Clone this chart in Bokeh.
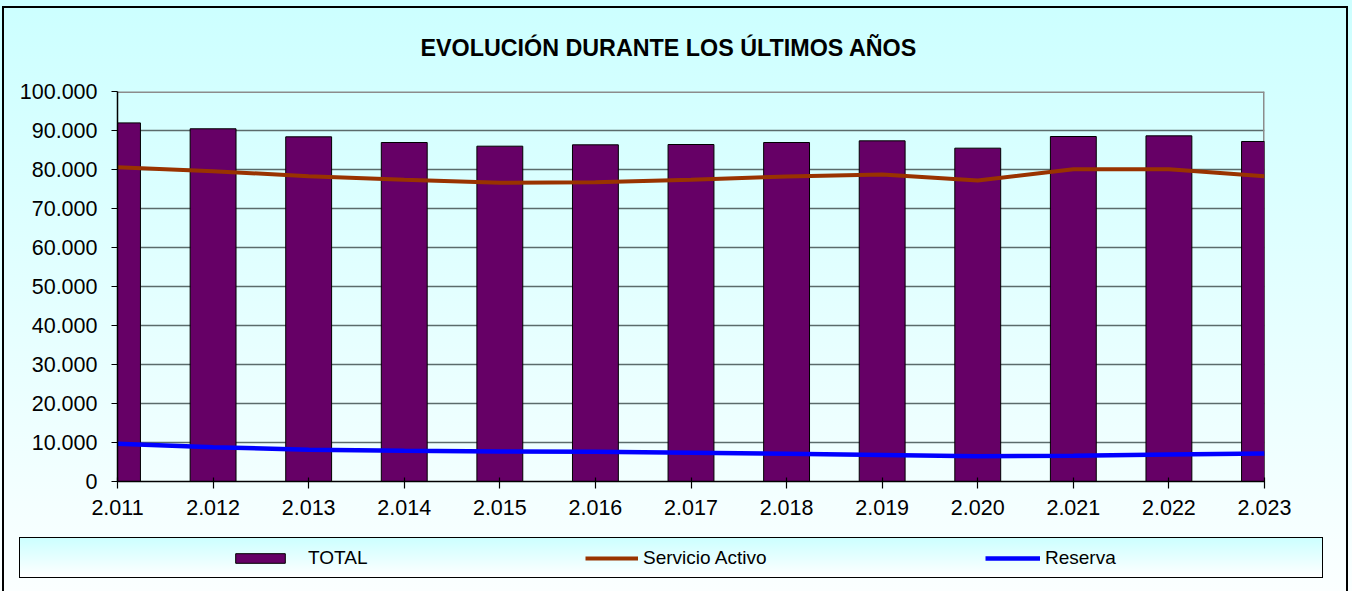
from bokeh.plotting import figure
from bokeh.layouts import column
from bokeh.models import Range1d, FixedTicker, Legend, LegendItem, Span
from bokeh.embed import file_html
from bokeh.resources import INLINE

# ---- data ----
years = [2011, 2012, 2013, 2014, 2015, 2016, 2017, 2018, 2019, 2020, 2021, 2022, 2023]
x_labels = ["2.011", "2.012", "2.013", "2.014", "2.015", "2.016", "2.017",
            "2.018", "2.019", "2.020", "2.021", "2.022", "2.023"]
total = [91950, 90440, 88380, 86920, 85980, 86330, 86410, 86920, 87350, 85470, 88460, 88630, 87180]
servicio_activo = [80590, 79560, 78290, 77360, 76590, 76750, 77360, 78200, 78720, 77180, 80080, 80080, 78290]
reserva = [9660, 8800, 8120, 7900, 7700, 7600, 7400, 7100, 6800, 6500, 6600, 6900, 7200]
y_ticks = [0, 10000, 20000, 30000, 40000, 50000, 60000, 70000, 80000, 90000, 100000]
y_labels = ["0", "10.000", "20.000", "30.000", "40.000", "50.000", "60.000",
            "70.000", "80.000", "90.000", "100.000"]
title_text = "EVOLUCIÓN DURANTE LOS ÚLTIMOS AÑOS"
series_names = ["TOTAL", "Servicio Activo", "Reserva"]

FONT = "Liberation Sans"
W = 1352
H1, H2 = 530, 61          # chart part / legend part
FRAME_L, FRAME_R, FRAME_T, FRAME_B = 117, 1264, 91, 481

BAR_COLOR = "#660066"
SERV_COLOR = "#993300"
RES_COLOR = "#0000ff"

# ---------------- chart figure ----------------
bg1 = [
    "linear-gradient(#000000, #000000) 2px 6px / 2px 600px no-repeat",        # outer left
    "linear-gradient(#000000, #000000) 2px 6px / 1346px 2px no-repeat",       # outer top
    "linear-gradient(#000000, #000000) 1346px 6px / 2px 600px no-repeat",     # outer right
    "linear-gradient(to bottom, #ccffff 0%, #f6ffff 100%)",                   # background
]
p = figure(width=W, height=H1, output_backend="svg", toolbar_location=None,
           x_range=Range1d(years[0], years[-1]), y_range=Range1d(y_ticks[0], y_ticks[-1]),
           min_border_left=FRAME_L, min_border_right=W - FRAME_R, min_border_top=FRAME_T,
           min_border_bottom=H1 - FRAME_B,
           background_fill_color=None, border_fill_color=None, outline_line_color=None,
           styles={"background": ", ".join(bg1)})

p.title.text = title_text
p.title.align = "left"
p.title.offset = 303
p.title.standoff = 61
p.title.text_font = FONT
p.title.text_font_size = "23.3px"
p.title.text_font_style = "bold"
p.title.text_color = "black"

p.xgrid.visible = False
p.ygrid.ticker = FixedTicker(ticks=y_ticks)
p.ygrid.grid_line_color = "#5b6b6b"
p.ygrid.grid_line_width = 1.5

p.add_layout(Span(location=y_ticks[-1], dimension="width", line_color="#8c8c8c",
                  line_width=3, level="underlay"))
p.add_layout(Span(location=years[-1], dimension="height", line_color="#8c8c8c",
                  line_width=3, level="underlay"))

p.vbar(x=years, top=total, bottom=0, width=0.48,
       fill_color=BAR_COLOR, line_color="black", line_width=1)
p.line(years, servicio_activo, line_color=SERV_COLOR, line_width=4)
p.line(years, reserva, line_color=RES_COLOR, line_width=4.5)

for ax in (p.xaxis[0], p.yaxis[0]):
    ax.axis_line_color = "black"
    ax.axis_line_width = 1.5
    ax.major_tick_line_color = "black"
    ax.major_tick_line_width = 1.2
    ax.minor_tick_line_color = None
    ax.major_label_text_font = FONT
    ax.major_label_text_font_size = "21.5px"
    ax.major_label_text_color = "black"

p.xaxis.ticker = FixedTicker(ticks=years)
p.xaxis.major_label_overrides = {y: l for y, l in zip(years, x_labels)}
p.xaxis.major_tick_in = 4
p.xaxis.major_tick_out = 7
p.xaxis.major_label_standoff = 11

p.yaxis.ticker = FixedTicker(ticks=y_ticks)
p.yaxis.major_label_overrides = {t: l for t, l in zip(y_ticks, y_labels)}
p.yaxis.major_tick_in = 0
p.yaxis.major_tick_out = 6
p.yaxis.major_label_standoff = 14

# ---------------- legend strip ----------------
bg2 = [
    "linear-gradient(#ccffff, #ffffff) 20px 8px / 1302px 39px no-repeat",     # legend box fill
    "linear-gradient(#000000, #000000) 19px 7px / 1304px 41px no-repeat",     # legend box border
    "linear-gradient(#000000, #000000) 2px 0px / 2px 61px no-repeat",         # outer left
    "linear-gradient(#000000, #000000) 1346px 0px / 2px 61px no-repeat",      # outer right
    "linear-gradient(to bottom, #f6ffff 0%, #fbffff 100%)",                   # background
]
q = figure(width=W, height=H2, output_backend="svg", toolbar_location=None, title=None,
           x_range=Range1d(years[0], years[-1]), y_range=Range1d(y_ticks[0], y_ticks[-1]),
           x_axis_type=None, y_axis_type=None,
           min_border_left=FRAME_L, min_border_right=W - FRAME_R, min_border_top=0,
           min_border_bottom=0,
           background_fill_color=None, border_fill_color=None, outline_line_color=None,
           styles={"background": ", ".join(bg2)})
q.grid.visible = False

# hidden copies of the series, used only to draw the legend swatches
k_bar = q.vbar(x=years, top=total, bottom=0, width=0.48, fill_color=BAR_COLOR,
               line_color="black", line_width=1, visible=False)
k_serv = q.line(years, servicio_activo, line_color=SERV_COLOR, line_width=4, visible=False)
k_res = q.line(years, reserva, line_color=RES_COLOR, line_width=4.5, visible=False)

def make_legend(label, rend, x_page, gw, gh, standoff):
    return Legend(items=[LegendItem(label=label, renderers=[rend])],
                  location=(x_page - FRAME_L, 22),
                  orientation="horizontal", glyph_width=gw, glyph_height=gh,
                  label_height=20, label_standoff=standoff, padding=0, margin=0,
                  border_line_color=None, background_fill_alpha=0,
                  inactive_fill_alpha=0,
                  label_text_font=FONT, label_text_font_size="19px",
                  label_text_color="black")

q.add_layout(make_legend(series_names[0], k_bar, 229, 62, 12, 17))
q.add_layout(make_legend(series_names[1], k_serv, 585, 53, 20, 5))
q.add_layout(make_legend(series_names[2], k_res, 985, 55, 20, 5))

layout = column(p, q, spacing=0)
open("out.html", "w").write(file_html(layout, INLINE))
